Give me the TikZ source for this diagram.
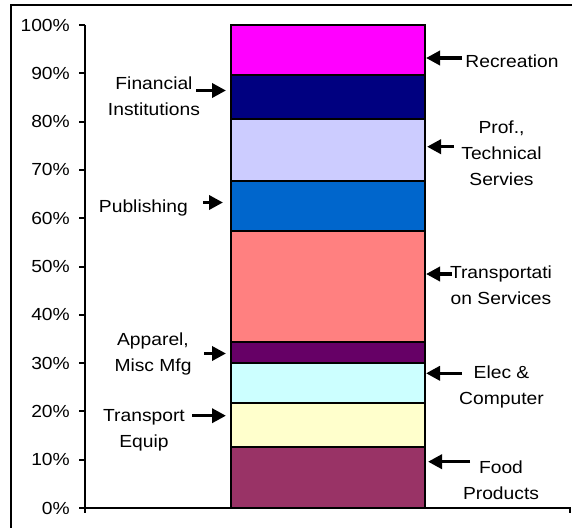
\documentclass[tikz,border=0pt]{standalone}
\usepackage{fontspec}
\setmainfont{Liberation Sans}[FakeStretch=1.1]
\usetikzlibrary{arrows.meta}
\definecolor{cRec}{HTML}{FF00FF}
\definecolor{cFin}{HTML}{000080}
\definecolor{cProf}{HTML}{CCCCFF}
\definecolor{cPub}{HTML}{0066CC}
\definecolor{cTsv}{HTML}{FF8080}
\definecolor{cApp}{HTML}{660066}
\definecolor{cElec}{HTML}{CCFFFF}
\definecolor{cTeq}{HTML}{FFFFCC}
\definecolor{cFood}{HTML}{993366}
\begin{document}
\begin{tikzpicture}[x=1pt,y=-1pt,
  lbl/.style={font=\fontsize{17.5}{26}\selectfont, align=center, inner sep=0pt, anchor=north},
  ticklbl/.style={font=\fontsize{17.5}{26}\selectfont, inner sep=0pt, anchor=east},
  arr/.style={line width=3.5pt, -{Triangle[length=14pt,width=14pt]}},
  seg/.style={draw=black, line width=2pt},
  axis/.style={line width=2pt},
  frame/.style={line width=2pt}]
\useasboundingbox (0,0) rectangle (572,527);
% frame
\draw[frame] (11,528) -- (11,5) -- (573,5);
% bar segments
\path[seg, fill=cFood] (231,447) rectangle (425,508);
\path[seg, fill=cTeq]  (231,402.7) rectangle (425,447);
\path[seg, fill=cElec] (231,362.7) rectangle (425,402.7);
\path[seg, fill=cApp]  (231,342.3) rectangle (425,362.7);
\path[seg, fill=cTsv]  (231,231) rectangle (425,342.3);
\path[seg, fill=cPub]  (231,181) rectangle (425,231);
\path[seg, fill=cProf] (231,119) rectangle (425,181);
\path[seg, fill=cFin]  (231,75) rectangle (425,119);
\path[seg, fill=cRec]  (231,25) rectangle (425,75);
% axes
\draw[axis] (85,25) -- (85,513);
\draw[axis] (84,508) -- (570,508) -- (570,513);
\foreach \k in {0,...,10} {
  \pgfmathsetmacro\yy{508-48.3*\k}
  \pgfmathtruncatemacro\pc{10*\k}
  \draw[axis] (79,\yy) -- (85,\yy);
  \node[ticklbl] (t\k) at (70,\yy) {\pc\%};
}
% left labels
\node[lbl] (fin) at (154,70.8) {Financial\strut\\Institutions\strut};
\node[lbl] (pub) at (143.4,193.8) {Publishing\strut};
\node[lbl] (app) at (153,326.8) {Apparel,\strut\\Misc Mfg\strut};
\node[lbl] (teq) at (144,402.8) {Transport\strut\\Equip\strut};
% right labels
\node[lbl] (rec) at (512,48.8) {Recreation\strut};
\node[lbl] (prof) at (501.5,114.8) {Prof.,\strut\\Technical\strut\\Servies\strut};
\node[lbl] (tsv) at (501,259.8) {Transportati\strut\\on Services\strut};
\node[lbl] (elec) at (501.5,359.8) {Elec \&\strut\\Computer\strut};
\node[lbl] (food) at (501,454.8) {Food\strut\\Products\strut};
% arrow ends
\coordinate (finT) at (196,90.5);   \coordinate (finH) at (226,90.5);
\coordinate (pubT) at (203,202.5);  \coordinate (pubH) at (223,202.5);
\coordinate (appT) at (204,353.5);  \coordinate (appH) at (226,353.5);
\coordinate (teqT) at (192,415.7);  \coordinate (teqH) at (226,415.7);
\coordinate (recT) at (462,58);     \coordinate (recH) at (426,58);
\coordinate (profT) at (454,146.7); \coordinate (profH) at (427,146.7);
\coordinate (tsvT) at (452,274);    \coordinate (tsvH) at (426,274);
\coordinate (elecT) at (462,373.3); \coordinate (elecH) at (426,373.3);
\coordinate (foodT) at (470,461.7); \coordinate (foodH) at (428,461.7);
\foreach \a in {fin,pub,app,teq,rec,prof,tsv,elec,food}
  \draw[arr] (\a T) -- (\a H);
\end{tikzpicture}
\end{document}
